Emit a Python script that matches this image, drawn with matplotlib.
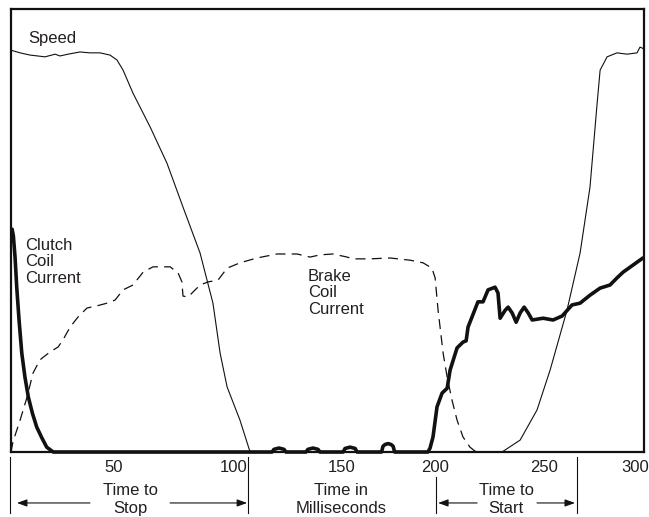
#!/usr/bin/env python3
"""Clutch/brake timing chart: speed, clutch coil current, brake coil current vs time (ms)."""
import matplotlib
matplotlib.use("Agg")
import matplotlib.pyplot as plt

plt.rcParams.update({
    "font.family": ["Liberation Sans", "DejaVu Sans"],
    "font.size": 12,
    "text.color": "#231f20",
})
INK = "#111111"

# ---- data (time in ms, level in % of full scale) ----
speed_t = [0, 4.3, 9.0, 16.1, 20.9, 23.2, 27.0, 32.7, 37.4, 42.2, 46.9, 50.2, 53.1,
           57.8, 65.9, 73.9, 81.5, 89.6, 95.7, 99.1, 102.4, 108.5, 113.3, 232.7,
           241.3, 249.3, 255.5, 263.5, 269.7, 274.4, 277.8, 279.2, 282.5, 287.2,
           292.0, 296.7, 298.1, 300]
speed_v = [90.7, 90.1, 89.6, 89.2, 89.8, 89.4, 89.8, 90.3, 90.1, 90.1, 89.6, 88.5, 86.2,
           81.0, 73.4, 65.2, 55.3, 44.9, 33.6, 22.3, 14.7, 7.2, 0.0, 0.0,
           2.7, 9.5, 18.5, 32.0, 44.9, 59.8, 78.8, 86.2, 89.2, 90.1,
           89.8, 90.1, 91.4, 91.0]

clutch_t = [0.5, 1.1, 1.9, 2.7, 3.8, 5.1, 6.6, 8.2, 10.1, 12.2, 14.6, 16.9, 20.0,
            123.7, 124.6, 127.0, 129.4, 130.3,
            139.8, 140.7, 143.1, 145.5, 146.4,
            157.4, 158.3, 160.7, 163.1, 164.0,
            175.6, 176.3, 177.3, 178.7, 180.1, 181.1, 181.8,
            197.6, 198.6, 200.0,
            201.9, 204.3, 206.7, 208.1, 211.4, 214.2, 215.7, 216.6, 218.5, 221.3,
            223.7, 226.1, 229.4, 230.8, 231.8, 234.2, 235.6, 237.5, 239.4, 241.3,
            243.2, 245.1, 247.0, 252.2, 256.9, 261.2, 265.9, 269.7, 274.4, 279.2,
            283.9, 287.2, 290.1, 294.8, 299.5]
clutch_v = [50.3, 48.8, 44.0, 37.2, 29.8, 22.3, 16.9, 12.4, 8.8, 5.6, 3.2, 1.1, 0.0,
            0.0, 0.6, 0.9, 0.6, 0.0,
            0.0, 0.6, 0.9, 0.6, 0.0,
            0.0, 0.8, 1.1, 0.8, 0.0,
            0.0, 1.3, 1.7, 1.9, 1.7, 1.3, 0.0,
            0.0, 0.9, 3.4,
            10.2, 13.3, 14.4, 18.5, 23.5, 24.8, 25.1, 28.2, 30.5, 33.9,
            33.9, 36.6, 37.2, 35.9, 30.2, 32.0, 32.7, 31.4, 29.3, 31.4,
            32.7, 31.4, 29.8, 30.2, 29.8, 30.7, 33.2, 33.6, 35.4, 37.0,
            37.7, 39.3, 40.6, 42.2, 43.8]

brake_t = [0, 0.9, 4.3, 7.6, 10.4, 13.7, 18.5, 22.3, 24.6, 28.0, 31.8, 36.0, 40.8,
           45.5, 49.3, 53.1, 57.8, 62.6, 67.3, 75.4, 79.2, 81.0, 81.5, 83.9, 89.6,
           93.4, 98.1, 102.4, 108.5, 116.6, 126.1, 135.6, 141.7, 146.5, 152.6,
           159.3, 162.1, 170.2, 179.6, 189.1, 195.3, 199.5, 201.0, 202.4, 204.8,
           206.7, 209.0, 211.4, 214.2, 217.5, 219.9, 222.3]
brake_v = [0.0, 2.3, 7.2, 12.4, 17.8, 20.8, 22.6, 23.7, 25.3, 28.2, 30.5, 32.5, 33.0,
           33.6, 34.3, 36.6, 37.7, 40.6, 41.8, 41.8, 40.4, 38.4, 35.2, 35.0, 37.7,
           38.4, 38.8, 41.5, 42.7, 43.8, 44.7, 44.7, 44.0, 44.5, 44.7,
           44.0, 43.6, 43.6, 43.8, 43.3, 42.7, 41.5, 39.3, 32.0, 22.3,
           16.9, 11.7, 7.2, 3.4, 1.1, 0.2, 0.0]

tick_labels = ["50", "100", "150", "200", "250", "300"]
tick_x = [48.4, 105.7, 156.9, 201.0, 252.6, 295.8]

fig = plt.figure(figsize=(6.49, 5.17), dpi=100)
ax = fig.add_axes([0.0170, 0.1257, 0.9753, 0.8569])
ax.set_xlim(0, 300)
ax.set_ylim(0, 100)
for s in ax.spines.values():
    s.set_linewidth(1.6)
    s.set_color(INK)
ax.set_xticks([]); ax.set_yticks([])

ax.plot(speed_t, speed_v, color=INK, lw=0.8, solid_joinstyle="round")
ax.plot(brake_t, brake_v, color=INK, lw=0.9, dashes=(8, 5))
ax.plot(clutch_t, clutch_v, color=INK, lw=2.6, solid_joinstyle="round",
        solid_capstyle="round", clip_on=False, zorder=3)

ax.text(8.1, 93.4, "Speed", ha="left", va="center")
ax.text(6.6, 42.9, "Clutch\nCoil\nCurrent", ha="left", va="center", linespacing=1.15)
ax.text(140.8, 35.9, "Brake\nCoil\nCurrent", ha="left", va="center", linespacing=1.15)

# ---- annotation strip under the axis ----
bx = ax.get_xaxis_transform()
for x, lab in zip(tick_x, tick_labels):
    ax.text(x, -0.034, lab, transform=bx, ha="center", va="center")

for x, y0 in [(-0.3, -0.011), (112.3, -0.011), (201.4, -0.056), (268.3, -0.011)]:
    ax.plot([x, x], [y0, -0.138], transform=bx, color=INK, lw=0.8, clip_on=False)

arrow = dict(arrowstyle="-|>,head_length=0.5,head_width=0.18", color=INK, lw=0.8,
             shrinkA=0, shrinkB=0)
for tail, tip in [(37.4, 2.8), (75.4, 111.9), (220.9, 202.4), (249.3, 267.3)]:
    ax.annotate("", xy=(tip, -0.115), xytext=(tail, -0.115), xycoords=bx,
                textcoords=bx, arrowprops=arrow, annotation_clip=False)

ax.text(56.4, -0.107, "Time to\nStop", transform=bx, ha="center", va="center", linespacing=1.2)
ax.text(156.4, -0.107, "Time in\nMilliseconds", transform=bx, ha="center", va="center", linespacing=1.2)
ax.text(234.6, -0.107, "Time to\nStart", transform=bx, ha="center", va="center", linespacing=1.2)

fig.savefig("out.png", dpi=100)
